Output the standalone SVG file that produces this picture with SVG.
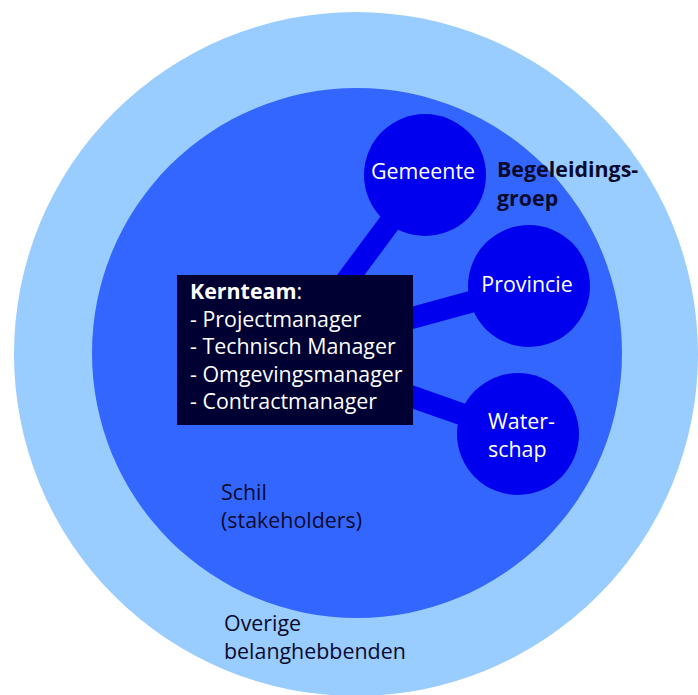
<svg xmlns="http://www.w3.org/2000/svg" width="698" height="695" viewBox="0 0 698 695">
<style>
.t{font-family:"Open Sans","Noto Sans","Liberation Sans",sans-serif;font-size:21.4px}
.w{fill:#ffffff}
.d{fill:#0a0a2e}
.b{font-weight:bold}
.node{fill:#0000ee}
.conn{stroke:#0000ee;stroke-width:22;fill:none}
</style>
<rect width="698" height="695" fill="#ffffff"/>
<g id="overige">
<circle cx="356" cy="354" r="342" fill="#99ccff"/>
<text class="t d" x="224" y="631">Overige</text>
<text class="t d" x="224" y="659">belanghebbenden</text>
</g>
<g id="schil">
<circle cx="357" cy="353" r="265" fill="#3366ff"/>
<text class="t d" x="221" y="500">Schil</text>
<text class="t d" x="221" y="528">(stakeholders)</text>
</g>
<g id="connectors">
<line class="conn" x1="330" y1="303" x2="425" y2="175"/>
<line class="conn" x1="390" y1="324" x2="529" y2="286"/>
<line class="conn" x1="390" y1="389" x2="518" y2="434"/>
</g>
<g id="gemeente">
<circle class="node" cx="425" cy="175" r="61"/>
<text class="t w" x="423" y="179" text-anchor="middle">Gemeente</text>
</g>
<g id="provincie">
<circle class="node" cx="529" cy="286" r="61"/>
<text class="t w" x="527" y="292" text-anchor="middle">Provincie</text>
</g>
<g id="waterschap">
<circle class="node" cx="518" cy="434" r="61"/>
<text class="t w" x="488" y="429">Water-</text>
<text class="t w" x="488" y="457">schap</text>
</g>
<g id="begeleidingsgroep">
<text class="t d b" x="497" y="177">Begeleidings-</text>
<text class="t d b" x="497" y="206">groep</text>
</g>
<g id="kernteam">
<rect x="177" y="275" width="236" height="150" fill="#000033"/>
<text class="t w" x="190" y="299"><tspan class="b">Kernteam</tspan>:</text>
<text class="t w" x="190" y="327">- Projectmanager</text>
<text class="t w" x="190" y="354">- Technisch Manager</text>
<text class="t w" x="190" y="382">- Omgevingsmanager</text>
<text class="t w" x="190" y="409">- Contractmanager</text>
</g>
</svg>
